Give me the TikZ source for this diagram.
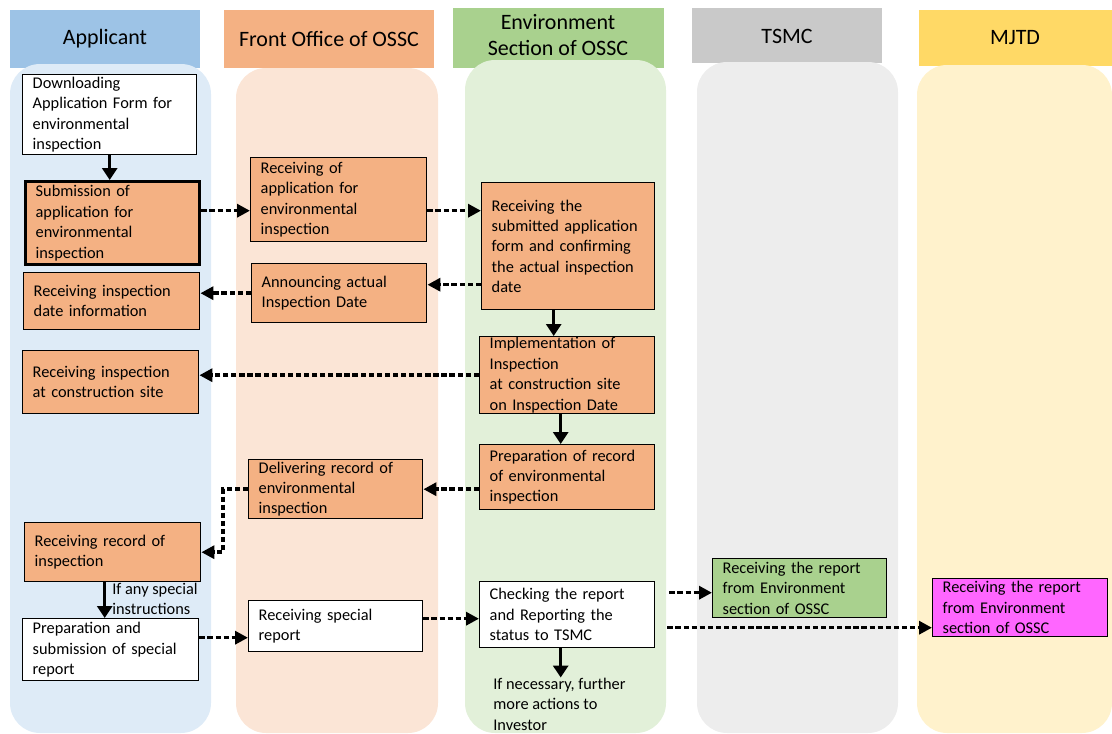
\documentclass[tikz,border=0pt]{standalone}
\usepackage{fontspec}
\setmainfont{Carlito}
\usetikzlibrary{arrows.meta}

\definecolor{applhead}{HTML}{9DC3E6}
\definecolor{appllane}{HTML}{DEEBF7}
\definecolor{fronthead}{HTML}{F4B183}
\definecolor{frontlane}{HTML}{FBE5D6}
\definecolor{envhead}{HTML}{A9D18E}
\definecolor{envlane}{HTML}{E2F0D9}
\definecolor{tsmchead}{HTML}{C9C9C9}
\definecolor{tsmclane}{HTML}{EDEDED}
\definecolor{mjtdhead}{HTML}{FFD966}
\definecolor{mjtdlane}{HTML}{FFF2CC}
\definecolor{taskfill}{HTML}{F4B183}
\definecolor{tsmcfill}{HTML}{A9D18E}
\definecolor{mjtdfill}{HTML}{FF66FF}

\newdimen\pxu \pxu=0.2mm

\begin{document}
\begin{tikzpicture}[
  x=0.2mm, y=-0.2mm,
  header/.style={font=\fontsize{12.5}{15.3}\selectfont, align=center, inner sep=0pt},
  task/.style={draw=black, line width=0.8pt, fill=taskfill, anchor=north west,
    align=left, inner xsep=10\pxu, inner ysep=0pt,
    font=\fontsize{9.3}{11.6}\selectfont},
  whitetask/.style={task, fill=white},
  remark/.style={font=\fontsize{9.3}{11.6}\selectfont, align=left, inner sep=0pt, anchor=west},
  msgflow/.style={line width=2pt, dash pattern=on 3pt off 1.6pt,
    -{Triangle[length=2.6mm,width=2.6mm]}},
  downflow/.style={line width=1.9pt, -{Triangle[length=2.4mm,width=3mm]}}]

  \useasboundingbox (0,0) rectangle (1112,734);

  % column heads, then the lanes over them
  \foreach \hl/\ht/\hr/\hb/\col in {10/10/200/68/applhead, 224/10/434/68/fronthead,
      453/8/664/68/envhead, 692/8/882/63/tsmchead, 919/10/1112/66/mjtdhead}
    \fill[\col] (\hl,\ht) rectangle (\hr,\hb);
  \foreach \ll/\lt/\lr/\col in {10/64/211/appllane, 236/68/438/frontlane,
      465/60/666/envlane, 697/62/898/tsmclane, 917/65/1112/mjtdlane}
    \fill[\col, rounded corners=6mm] (\ll,\lt) rectangle (\lr,733);

  \node[header] (happl) at (105,39) {Applicant};
  \node[header] (hfront) at (329,39) {Front Office of OSSC};
  \node[header] (henv) at (558,35) {Environment\\Section of OSSC};
  \node[header] (htsmc) at (787,36) {TSMC};
  \node[header] (hmjtd) at (1015,38) {MJTD};

  % Applicant
  \node[whitetask, text width=154\pxu, minimum height=80\pxu] (dl) at (22,74)
    {Downloading\\Application Form for\\environmental\\inspection};
  \node[task, line width=1.9pt, text width=154\pxu, minimum height=83\pxu] (sub) at (24,180)
    {Submission of\\application for\\environmental\\inspection};
  \node[task, text width=156\pxu, minimum height=57\pxu] (adate) at (23,272)
    {Receiving inspection\\date information};
  \node[task, text width=156\pxu, minimum height=63\pxu] (asite) at (22,350)
    {Receiving inspection\\at construction site};
  \node[task, text width=156\pxu, minimum height=59\pxu] (arec) at (24,522)
    {Receiving record of\\inspection};
  \node[whitetask, text width=156\pxu, minimum height=62\pxu] (aspec) at (22,618)
    {Preparation and\\submission of special\\report};
  \node[remark] (lspecial) at (112,599) {If any special\\instructions};

  % Front Office
  \node[task, text width=156\pxu, minimum height=84\pxu] (frecv) at (250,157)
    {Receiving of\\application for\\environmental\\inspection};
  \node[task, text width=155\pxu, minimum height=59\pxu] (fann) at (251,263)
    {Announcing actual\\Inspection Date};
  \node[task, text width=154\pxu, minimum height=59\pxu] (fdel) at (248,459)
    {Delivering record of\\environmental\\inspection};
  \node[whitetask, text width=154\pxu, minimum height=51\pxu] (fspec) at (248,600)
    {Receiving special\\report};

  % Environment Section
  \node[task, text width=153\pxu, minimum height=127\pxu] (erecv) at (481,182)
    {Receiving the\\submitted application\\form and confirming\\the actual inspection\\date};
  \node[task, text width=155\pxu, minimum height=77\pxu] (eimpl) at (479,336)
    {Implementation of\\Inspection\\at construction site\\on Inspection Date};
  \node[task, text width=155\pxu, minimum height=65\pxu] (eprep) at (479,444)
    {Preparation of record\\of environmental\\inspection};
  \node[whitetask, text width=155\pxu, minimum height=66\pxu] (echk) at (479,581)
    {Checking the report\\and Reporting the\\status to TSMC};
  \node[remark] (lfurther) at (493,704) {If necessary, further\\more actions to\\Investor};

  % TSMC and MJTD
  \node[task, fill=tsmcfill, text width=154\pxu, minimum height=59\pxu] (tsmcbox) at (712,558)
    {Receiving the report\\from Environment\\section of OSSC};
  \node[task, fill=mjtdfill, text width=155\pxu, minimum height=58\pxu] (mjtdbox) at (932,578)
    {Receiving the report\\from Environment\\section of OSSC};

  % flows
  \draw[downflow] (dl.south) -- (dl.south |- sub.north);
  \draw[msgflow, transform canvas={yshift=-2.2mm}] (sub.east |- frecv.west) -- (frecv.west);
  \draw[msgflow, transform canvas={yshift=-2.2mm}] (frecv.east) -- (frecv.east -| erecv.west);
  \draw[msgflow, transform canvas={yshift=1.7mm}] (erecv.west |- fann.east) -- (fann.east);
  \draw[msgflow] (fann.west) -- (fann.west -| adate.east);
  \draw[downflow, transform canvas={xshift=-2.9mm}] (erecv.south) -- (erecv.south |- eimpl.north);
  \draw[msgflow] (eimpl.west) -- (eimpl.west -| asite.east);
  \draw[downflow, transform canvas={xshift=-1.3mm}] (eimpl.south) -- (eimpl.south |- eprep.north);
  \draw[msgflow] (eprep.west |- fdel.east) -- (fdel.east);
  \draw[msgflow] (fdel.west) -- ++(-25,0) |- (arec.east);
  \draw[downflow, transform canvas={xshift=-1.6mm}] (arec.south) -- (arec.south |- aspec.north);
  \draw[msgflow, transform canvas={yshift=2.4mm}] (aspec.east) -- (aspec.east -| fspec.west);
  \draw[msgflow, transform canvas={yshift=-0.8mm}] (fspec.east |- echk.west) -- (echk.west);
  \draw[msgflow, shorten <=2.8mm, transform canvas={yshift=-0.9mm}] (echk.east |- tsmcbox.west) -- (tsmcbox.west);
  \draw[msgflow, shorten <=2.4mm, transform canvas={yshift=-2.6mm}] (echk.east) -- (echk.east -| mjtdbox.west);
  \draw[downflow, transform canvas={xshift=-1.3mm}] (echk.south) -- (echk.south |- lfurther.north);
\end{tikzpicture}
\end{document}
